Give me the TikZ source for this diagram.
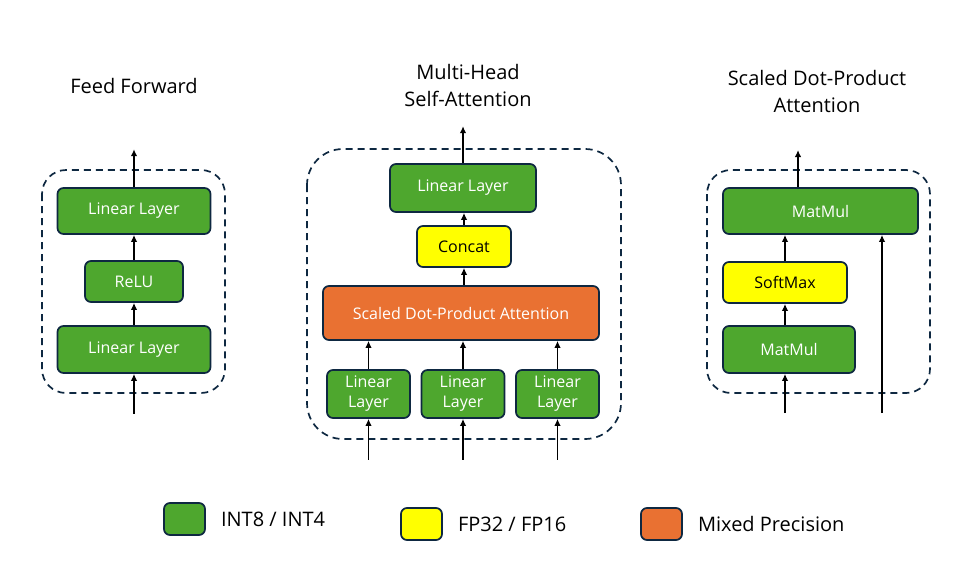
\documentclass[tikz,border=0pt]{standalone}
\usepackage{fontspec}
\setmainfont{Open Sans}
\usetikzlibrary{positioning,arrows.meta}
\definecolor{ink}{HTML}{0E2841}
\definecolor{quant}{HTML}{4EA72E}
\definecolor{full}{HTML}{FFFF00}
\definecolor{mixed}{HTML}{E97132}
\tikzset{
  block/.style={rounded corners=6pt,draw=ink,fill=#1,line width=1.7pt,
                font=\fontsize{16}{20}\selectfont,align=center,inner sep=0pt,text=white},
  block/.default=quant,
  group/.style={rounded corners=24pt,draw=ink,dash pattern=on 7pt off 5pt,line width=1.7pt},
  flow/.style={-{Latex[length=7pt,width=6.5pt]},line width=1.8pt,color=black},
  title/.style={font=\fontsize{20}{27}\selectfont,align=center},
}

\begin{document}
\begin{tikzpicture}[x=1pt,y=-1pt]
  \useasboundingbox (0,0) rectangle (971,565);

  % feed forward
  \node[title] (fftitle) at (134,86) {Feed Forward};
  \draw[group] (42,170) rectangle (225,393);
  \node[block,minimum width=153,minimum height=46] (ffout) at (134,211) {Linear Layer};
  \node[block,minimum width=98,minimum height=41] (relu) at (134,281.5) {ReLU};
  \node[block,minimum width=153,minimum height=47] (ffin) at (134,349.5) {Linear Layer};
  \coordinate[below=40pt of ffin.south] (ffsrc);
  \coordinate[above=38pt of ffout.north] (ffdst);
  \draw[flow] (ffsrc) -- (ffin);
  \draw[flow] (ffin) -- (relu);
  \draw[flow] (relu) -- (ffout);
  \draw[flow] (ffout) -- (ffdst);

  % multi-head self-attention
  \node[title] (mhtitle) at (468,85.5) {Multi-Head\\Self-Attention};
  \draw[group,rounded corners=36pt] (307,149) rectangle (621,439);
  \node[block,minimum width=146,minimum height=48] (mhout) at (463,188) {Linear Layer};
  \node[block=full,text=black,minimum width=94,minimum height=41] (concat) at (464,246.5) {Concat};
  \node[block=mixed,minimum width=276,minimum height=54] (sdpa) at (461,313) {Scaled Dot-Product Attention};
  \foreach \i/\x in {1/368.5,2/463,3/557.5}{
    \node[block,minimum width=83,minimum height=48] (lin\i) at (\x,394) {Linear\\Layer};
    \coordinate[below=41pt of lin\i.south] (mhsrc\i);
    \draw[flow] (mhsrc\i) -- (lin\i);
    \draw[flow] (lin\i) -- (lin\i |- sdpa.south);
  }
  \coordinate[above=37pt of mhout.north] (mhdst);
  \draw[flow] (sdpa.north -| concat) -- (concat);
  \draw[flow] (concat) -- (concat |- mhout.south);
  \draw[flow] (mhout) -- (mhdst);

  % scaled dot-product attention
  \node[title] (sdtitle) at (817,91.5) {Scaled Dot-Product\\Attention};
  \draw[group] (707,170) rectangle (930,393);
  \node[block,minimum width=195,minimum height=46] (mm2) at (820.5,211) {MatMul};
  \node[block=full,text=black,minimum width=124,minimum height=41] (soft) at (785,282.5) {SoftMax};
  \node[block,minimum width=132,minimum height=47] (mm1) at (789,349.5) {MatMul};
  \coordinate (sdsrc) at (785,413);
  \coordinate (sdkey) at (882,413);
  \coordinate (sddst) at (798,150);
  \draw[flow] (sdsrc) -- (sdsrc |- mm1.south);
  \draw[flow] (soft |- mm1.north) -- (soft);
  \draw[flow] (soft) -- (soft |- mm2.south);
  \draw[flow] (sdkey) -- (sdkey |- mm2.south);
  \draw[flow] (mm2.north -| sddst) -- (sddst);

  % legend
  \foreach \i/\col/\txt/\x/\y in {1/quant/{INT8 / INT4}/184.5/519,
      2/full/{FP32 / FP16}/421.5/524,3/mixed/{Mixed Precision}/661.5/524}{
    \node[block=\col,minimum width=41,minimum height=32] (key\i) at (\x,\y) {};
    \node[right=15pt of key\i,inner sep=0pt,font=\fontsize{20}{24}\selectfont] (lbl\i) {\txt};
  }
\end{tikzpicture}
\end{document}
